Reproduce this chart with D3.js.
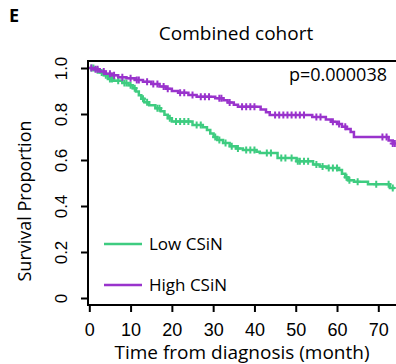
<!DOCTYPE html>
<html>
<head>
<meta charset="utf-8">
<script src="https://cdn.jsdelivr.net/npm/d3@7"></script>
<style>
  body { margin: 0; background: #fff; }
  svg { display: block; font-family: "Open Sans", "Noto Sans", sans-serif; }
</style>
</head>
<body>
<svg id="viz" width="396" height="364"></svg>
<script>
// survival steps: [month, proportion]
const lowSteps = [[0,1],[1.5,0.99],[2.5,0.98],[3.5,0.968],[4.5,0.952],[6,0.945],[8,0.935],[9.5,0.925],
  [10.5,0.912],[11.3,0.898],[12,0.882],[12.6,0.866],[13.3,0.851],[14.5,0.838],[16,0.825],[17.3,0.812],
  [18.2,0.797],[19,0.782],[20,0.767],[25,0.752],[27.5,0.742],[28.5,0.73],[29.3,0.715],[30.1,0.7],
  [31,0.687],[32.4,0.674],[34,0.66],[35.5,0.65],[37.2,0.643],[40.5,0.636],[41.3,0.63],[45.6,0.609],
  [50.2,0.595],[54.2,0.58],[55.8,0.572],[57.5,0.565],[60.5,0.556],[61.2,0.54],[62,0.525],[62.7,0.512],
  [64.1,0.505],[67.5,0.495],[72.8,0.478]]
const highSteps = [[0,1],[1,0.995],[2.5,0.985],[4,0.975],[5.5,0.968],[7,0.96],[9,0.955],[11,0.948],
  [13,0.94],[15,0.93],[17,0.92],[18.5,0.91],[20,0.9],[21.5,0.892],[24,0.883],[26,0.875],[30.5,0.868],
  [32.5,0.86],[33.5,0.85],[35,0.84],[36,0.832],[41.5,0.82],[42.8,0.808],[43.7,0.796],[54,0.787],
  [57.3,0.776],[58.5,0.766],[60,0.756],[61.2,0.745],[62.3,0.735],[63.3,0.722],[64.1,0.7],[72.5,0.685],
  [73.5,0.672]]
const lowEnd = 74
const highEnd = 74

// censored times (+ marks)
const lowCensor = [0.5,1,2,3,4,5,5.5,7,8.5,9,10,11,13,14,16.5,17,19.5,21,22,23,24,26,27,30.5,31.5,
  33,34.5,36,38,39,40,43,44,46.5,47.5,49,50.5,51,52,53,55,56.5,58,59,60,62.3,63,65,69.5,72.5,73.5]
const highCensor = [0.5,1.5,2,3.5,5,6,8,10,11.5,12,14,15.5,16.5,18,19,22,23,25,27,28,29,31.5,32,34,
  37,38,39,40,45,46,47,48,49,50,51,52,55,56,59,60.5,62,71,72,73.5,74]

const xTicks = [0,10,20,30,40,50,60,70]
const yTicks = [0,0.2,0.4,0.6,0.8,1.0]

const groups = ['Low CSiN', 'High CSiN']
const colors = ['#3ecc80', '#9933cc']

const svg = d3.select('#viz')

const x = d3.scaleLinear().domain([0, 70]).range([89.3, 378.3])
const y = d3.scaleLinear().domain([0, 1]).range([298, 68])

// step value at time t
function survAt(steps, t) {
  let s = steps[0][1]
  steps.forEach(d => { if (d[0] <= t) s = d[1] })
  return s
}

function stepPath(steps, end) {
  let pts = steps.slice()
  pts.push([end, steps[steps.length - 1][1]])
  return d3.line().curve(d3.curveStepAfter).x(d => x(d[0])).y(d => y(d[1]))(pts)
}

const series = [
  { steps: lowSteps, end: lowEnd, censor: lowCensor, color: colors[0] },
  { steps: highSteps, end: highEnd, censor: highCensor, color: colors[1] }
]

series.forEach(s => {
  svg.append('path')
    .attr('d', stepPath(s.steps, s.end))
    .attr('fill', 'none')
    .attr('stroke', s.color)
    .attr('stroke-width', 2.5)

  svg.append('g').selectAll('path')
    .data(s.censor)
    .join('path')
      .attr('transform', d => 'translate(' + [x(d), y(survAt(s.steps, d))] + ')')
      .attr('d', 'M-3,0H3M0,-3.5V3.5')
      .attr('stroke', s.color)
      .attr('stroke-width', 2)
})

// box
svg.append('path')
  .attr('d', 'M400,61H88V305H400')
  .attr('fill', 'none')
  .attr('stroke', '#000')
  .attr('stroke-width', 2)

// axes
let xa = svg.append('g')
  .attr('transform', 'translate(0,305)')
  .call(d3.axisBottom(x).tickValues(xTicks).tickSize(7).tickFormat(d3.format('d')))
xa.select('.domain').remove()
xa.selectAll('line').attr('stroke-width', 2)
xa.selectAll('text').attr('y', 31).attr('dy', 0).style('font-size', '18px').attr('fill', '#000')

let ya = svg.append('g')
  .attr('transform', 'translate(88,0)')
  .call(d3.axisLeft(y).tickValues(yTicks).tickSize(7).tickFormat(d => d === 0 ? '0' : d.toFixed(1)))
ya.select('.domain').remove()
ya.selectAll('line').attr('stroke-width', 2)
ya.selectAll('text')
  .attr('x', 0).attr('y', -21).attr('dy', 0)
  .attr('transform', 'rotate(-90)')
  .attr('text-anchor', 'middle')
  .style('font-size', '17px').attr('fill', '#000')

// texts
svg.append('text').attr('x', 9).attr('y', 22).text('E')
  .style('font-weight', 'bold').style('font-size', '18px')
svg.append('text').attr('x', 236).attr('y', 40).attr('text-anchor', 'middle')
  .style('font-size', '19px').text('Combined cohort')
svg.append('text').attr('x', 387).attr('y', 81).attr('text-anchor', 'end')
  .style('font-size', '18px').text('p=0.000038')
svg.append('text').attr('x', 242).attr('y', 359).attr('text-anchor', 'middle')
  .style('font-size', '19px').text('Time from diagnosis (month)')
svg.append('text')
  .attr('transform', 'translate(31,201) rotate(-90)')
  .attr('text-anchor', 'middle')
  .style('font-size', '18px').text('Survival Proportion')

// legend
const legY = [244, 285]
groups.forEach((g, i) => {
  svg.append('line')
    .attr('x1', 104).attr('x2', 142).attr('y1', legY[i]).attr('y2', legY[i])
    .attr('stroke', colors[i]).attr('stroke-width', 2.5)
  svg.append('text').attr('x', 149).attr('y', legY[i] + 6)
    .style('font-size', '17px').text(g)
})
</script>
</body>
</html>
